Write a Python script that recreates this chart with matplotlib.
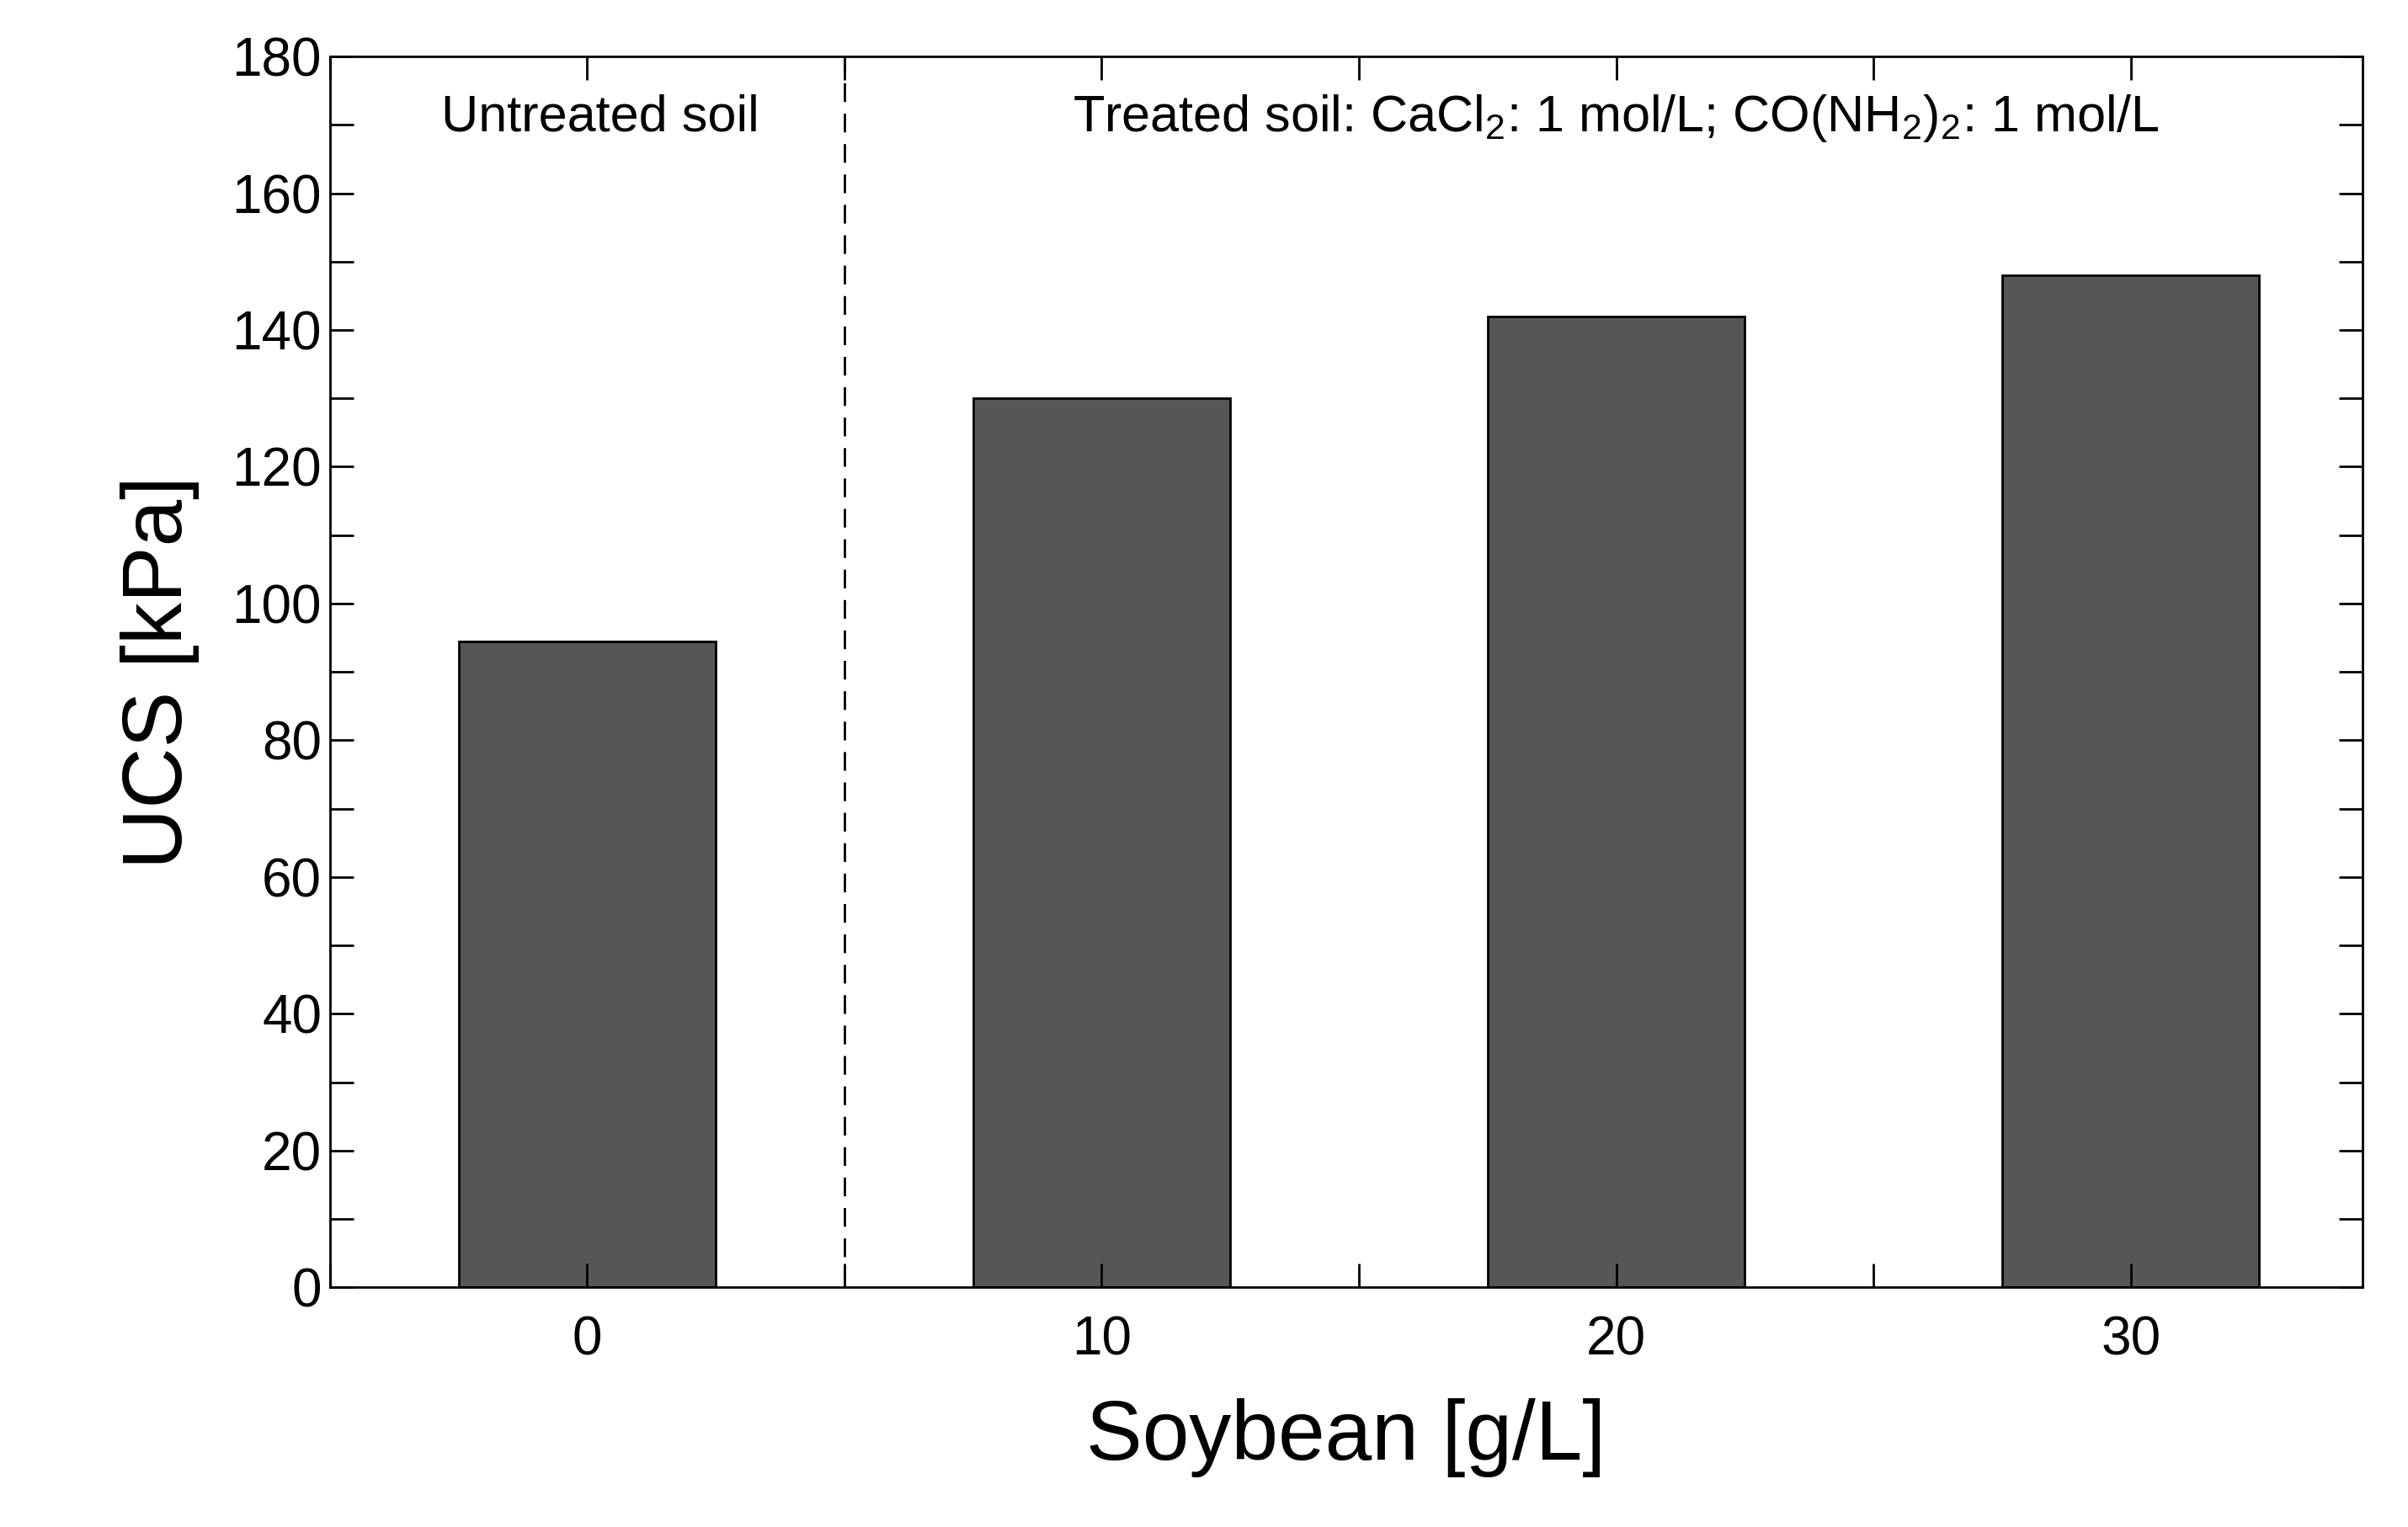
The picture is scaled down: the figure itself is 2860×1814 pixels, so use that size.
import matplotlib.pyplot as plt
from matplotlib.ticker import MultipleLocator

plt.rcParams['font.family'] = ['Liberation Sans', 'DejaVu Sans']
plt.rcParams['mathtext.fontset'] = 'custom'
plt.rcParams['mathtext.rm'] = 'Liberation Sans'

soybean = [0, 10, 20, 30]
ucs = [94.5, 130, 142, 148]

fig = plt.figure(figsize=(14.3, 9.07), dpi=200)
ax = fig.add_axes([0.137, 0.157, 0.844, 0.806])

ax.bar(soybean, ucs, width=5, color='#555658', edgecolor='black', linewidth=1)
ax.axvline(5, color='black', linestyle=(0, (8, 5)), linewidth=1)

ax.set_xlim(-5, 34.5)
ax.set_ylim(0, 180)
ax.set_xticks(soybean)
ax.xaxis.set_minor_locator(MultipleLocator(5))
ax.yaxis.set_major_locator(MultipleLocator(20))
ax.yaxis.set_minor_locator(MultipleLocator(10))
ax.tick_params(which='both', direction='in', top=True, right=True, labelsize=23, width=1)
ax.tick_params(which='major', length=10)
ax.tick_params(which='minor', length=10)
ax.tick_params(axis='x', pad=12)
for s in ax.spines.values():
    s.set_linewidth(1)

ax.set_xlabel('Soybean [g/L]', fontsize=36, labelpad=14)
ax.set_ylabel('UCS [kPa]', fontsize=36, labelpad=14)

ax.text(0.25, 171, 'Untreated soil', fontsize=22, ha='center', va='center')
ax.text(20, 171, r'Treated soil: CaCl$_2$: 1 mol/L; CO(NH$_2$)$_2$: 1 mol/L',
        fontsize=22, ha='center', va='center')

fig.savefig('out.png')
